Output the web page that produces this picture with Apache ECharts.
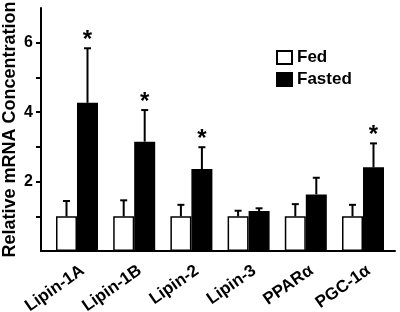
<!DOCTYPE html>
<html><head><meta charset="utf-8">
<script src="https://cdn.jsdelivr.net/npm/echarts@6/dist/echarts.min.js"></script>
<style>html,body{margin:0;padding:0;background:#fff}#c{width:400px;height:312px}</style>
</head><body><div id="c"></div>
<script>
const categories = ['Lipin-1A', 'Lipin-1B', 'Lipin-2', 'Lipin-3', 'PPARα', 'PGC-1α'];
const fedValues = [1.0, 1.0, 1.0, 1.0, 1.0, 1.0];
const fedErrors = [0.44, 0.46, 0.33, 0.16, 0.35, 0.33];
const fastedValues = [4.27, 3.15, 2.36, 1.15, 1.63, 2.41];
const fastedErrors = [1.57, 0.91, 0.63, 0.08, 0.48, 0.69];
const fastedSignificant = [true, true, true, false, false, true];
const yTickValues = [1, 2, 3, 4, 5, 6];
const yLabelValues = [2, 4, 6];

const FONT = '"Liberation Sans", Arial, sans-serif';
const BAR_W = 21;
const CAP_W = 7;

function errorSeries(values, errors, side, stars) {
  return {
    type: 'custom', xAxisIndex: 0, yAxisIndex: 0, z: 5, silent: true,
    data: values.map((v, i) => [i, v, errors[i], stars && stars[i] ? 1 : 0]),
    renderItem: (params, api) => {
      const i = api.value(0), v = api.value(1), e = api.value(2);
      const base = api.coord([i, v]);
      const top = api.coord([i, v + e]);
      const x = base[0] + side * BAR_W / 2;
      const children = [
        { type: 'line', shape: { x1: x, y1: base[1], x2: x, y2: top[1] }, style: { stroke: '#000', lineWidth: 2 } },
        { type: 'line', shape: { x1: x - CAP_W / 2, y1: top[1], x2: x + CAP_W / 2, y2: top[1] }, style: { stroke: '#000', lineWidth: 2 } }
      ];
      if (api.value(3)) {
        children.push({ type: 'text', x: x, y: top[1] - 8,
          style: { text: '*', font: 'bold 24px ' + FONT, textAlign: 'center', textVerticalAlign: 'middle', fill: '#000' } });
      }
      return { type: 'group', children };
    }
  };
}

const chart = echarts.init(document.getElementById('c'), null, { renderer: 'canvas' });
chart.setOption({
  animation: false,
  backgroundColor: '#fff',
  textStyle: { fontFamily: FONT },
  grid: [
    { left: 48.4, right: 8.4, top: 8, bottom: 61, containLabel: false, outerBoundsMode: 'none' },
    { left: 41, right: 5, top: 8, bottom: 61, containLabel: false, outerBoundsMode: 'none' }
  ],
  legend: {
    data: ['Fed', 'Fasted'], orient: 'vertical', left: 276, top: 49, padding: 0,
    itemWidth: 15, itemHeight: 13, itemGap: 5, icon: 'rect',
    textStyle: { fontFamily: FONT, fontWeight: 'bold', fontSize: 17, color: '#000' }
  },
  xAxis: [
    { type: 'category', gridIndex: 0, data: categories,
      axisLine: { show: false }, axisTick: { show: false },
      axisLabel: { rotate: 35, margin: 22, padding: [0, -7, 0, 0], fontFamily: FONT, fontWeight: 'bold', fontSize: 17, color: '#000' } },
    { type: 'value', gridIndex: 1, min: 0, max: 1,
      axisLine: { show: true, lineStyle: { color: '#000', width: 2 } },
      axisTick: { show: false }, axisLabel: { show: false }, splitLine: { show: false } }
  ],
  yAxis: [
    { type: 'value', gridIndex: 0, min: 0, max: 7, show: false, splitLine: { show: false } },
    { type: 'value', gridIndex: 1, min: 0, max: 7, interval: 1,
      name: 'Relative mRNA Concentration', nameLocation: 'middle', nameGap: 22, nameMoveOverlap: false,
      nameTextStyle: { fontFamily: FONT, fontWeight: 'bold', fontSize: 18, color: '#000' },
      axisLine: { show: true, lineStyle: { color: '#000', width: 2 } },
      axisTick: { show: true, length: 5, customValues: yTickValues, lineStyle: { color: '#000', width: 2 } },
      axisLabel: { margin: 8, customValues: yLabelValues, fontFamily: FONT, fontWeight: 'bold', fontSize: 16, color: '#000' },
      splitLine: { show: false } }
  ],
  series: [
    { name: 'Fed', type: 'bar', xAxisIndex: 0, yAxisIndex: 0, data: fedValues, barWidth: BAR_W, barGap: '0%',
      itemStyle: { color: '#fff', borderColor: '#000', borderWidth: 1.5 } },
    { name: 'Fasted', type: 'bar', xAxisIndex: 0, yAxisIndex: 0, data: fastedValues, barWidth: BAR_W, barGap: '0%',
      itemStyle: { color: '#000', borderColor: '#000', borderWidth: 1.5 } },
    errorSeries(fedValues, fedErrors, -1, null),
    errorSeries(fastedValues, fastedErrors, 1, fastedSignificant)
  ]
});
</script></body></html>
